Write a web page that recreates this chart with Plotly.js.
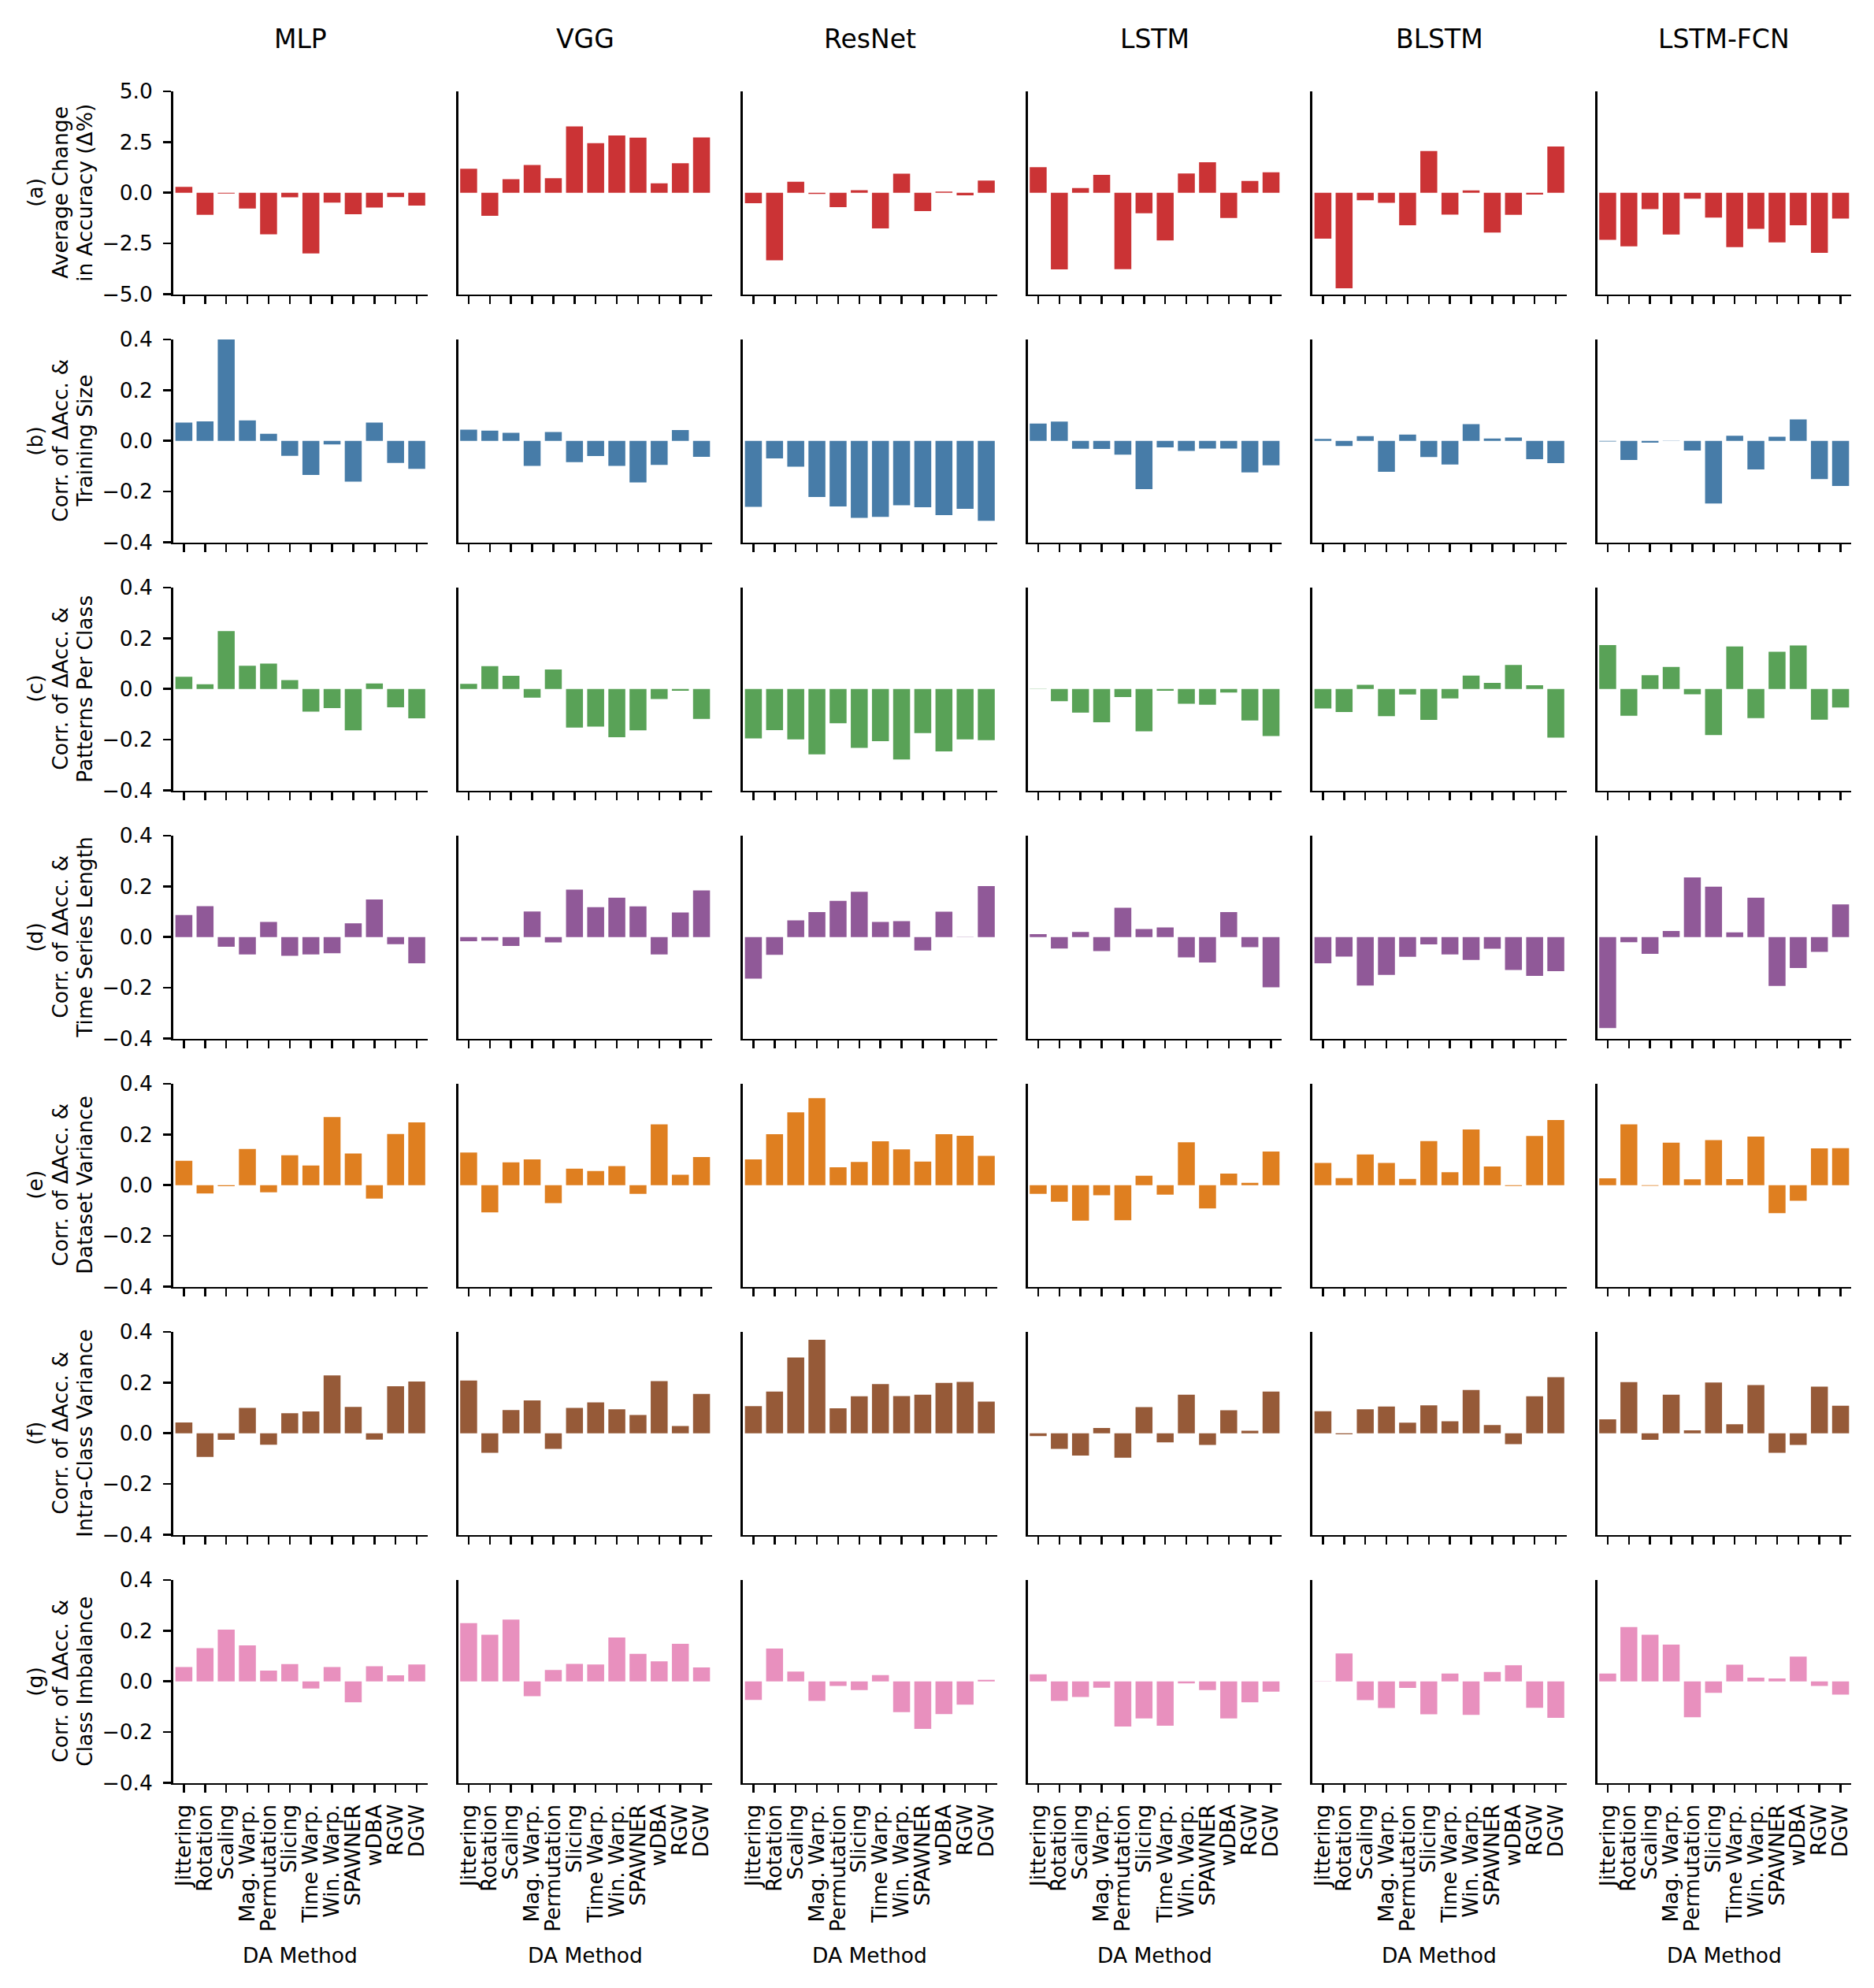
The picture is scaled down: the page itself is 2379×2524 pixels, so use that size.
<!DOCTYPE html>
<html>
<head>
<meta charset="utf-8">
<script src="https://cdn.plot.ly/plotly-3.0.1.min.js"></script>
<style>html,body{margin:0;padding:0;background:#fff;}#chart{width:2379px;height:2524px;}</style>
</head>
<body>
<div id="chart"></div>
<script>
const methods = ['Jittering','Rotation','Scaling','Mag. Warp.','Permutation','Slicing','Time Warp.','Win. Warp.','SPAWNER','wDBA','RGW','DGW'];
const models = ['MLP','VGG','ResNet','LSTM','BLSTM','LSTM-FCN'];

// each row: one list per model (MLP, VGG, ResNet, LSTM, BLSTM, LSTM-FCN)
const avgChangeAcc = [
  [0.29, -1.09, -0.04, -0.78, -2.05, -0.22, -2.99, -0.49, -1.06, -0.73, -0.21, -0.63],
  [1.18, -1.14, 0.67, 1.37, 0.72, 3.27, 2.45, 2.83, 2.72, 0.47, 1.46, 2.73],
  [-0.51, -3.33, 0.54, -0.06, -0.71, 0.13, -1.76, 0.94, -0.90, 0.06, -0.13, 0.60],
  [1.26, -3.78, 0.23, 0.88, -3.77, -1.01, -2.35, 0.95, 1.50, -1.24, 0.58, 1.01],
  [-2.26, -4.71, -0.37, -0.50, -1.60, 2.06, -1.08, 0.12, -1.96, -1.09, -0.09, 2.28],
  [-2.32, -2.64, -0.81, -2.06, -0.29, -1.22, -2.68, -1.78, -2.45, -1.60, -2.96, -1.27]
];
const corrTrainingSize = [
  [0.072, 0.077, 0.400, 0.081, 0.028, -0.059, -0.134, -0.014, -0.161, 0.072, -0.087, -0.110],
  [0.044, 0.040, 0.032, -0.099, 0.035, -0.084, -0.060, -0.099, -0.164, -0.095, 0.043, -0.063],
  [-0.260, -0.069, -0.102, -0.221, -0.259, -0.304, -0.300, -0.254, -0.262, -0.293, -0.268, -0.315],
  [0.068, 0.076, -0.031, -0.032, -0.054, -0.190, -0.026, -0.040, -0.030, -0.030, -0.124, -0.096],
  [0.008, -0.020, 0.019, -0.122, 0.025, -0.064, -0.093, 0.066, 0.009, 0.013, -0.072, -0.088],
  [-0.002, -0.075, -0.007, -0.001, -0.038, -0.247, 0.020, -0.113, 0.016, 0.085, -0.151, -0.178]
];
const corrPatternsPerClass = [
  [0.048, 0.019, 0.228, 0.092, 0.100, 0.035, -0.089, -0.075, -0.163, 0.022, -0.072, -0.116],
  [0.020, 0.090, 0.052, -0.034, 0.077, -0.152, -0.148, -0.190, -0.163, -0.040, -0.007, -0.118],
  [-0.195, -0.162, -0.199, -0.258, -0.135, -0.232, -0.206, -0.278, -0.174, -0.246, -0.199, -0.202],
  [-0.001, -0.048, -0.093, -0.131, -0.032, -0.167, -0.007, -0.058, -0.062, -0.014, -0.124, -0.186],
  [-0.077, -0.091, 0.016, -0.107, -0.022, -0.122, -0.037, 0.053, 0.024, 0.095, 0.015, -0.192],
  [0.173, -0.106, 0.054, 0.087, -0.021, -0.182, 0.168, -0.115, 0.147, 0.172, -0.121, -0.073]
];
const corrSeriesLength = [
  [0.087, 0.122, -0.038, -0.068, 0.060, -0.074, -0.068, -0.064, 0.054, 0.148, -0.028, -0.103],
  [-0.016, -0.014, -0.035, 0.101, -0.021, 0.187, 0.118, 0.155, 0.121, -0.068, 0.097, 0.184],
  [-0.164, -0.070, 0.066, 0.099, 0.143, 0.179, 0.060, 0.063, -0.053, 0.100, 0.001, 0.201],
  [0.012, -0.045, 0.020, -0.055, 0.116, 0.032, 0.038, -0.080, -0.100, 0.099, -0.040, -0.198],
  [-0.103, -0.077, -0.191, -0.149, -0.078, -0.029, -0.068, -0.090, -0.046, -0.130, -0.153, -0.134],
  [-0.359, -0.020, -0.066, 0.024, 0.235, 0.199, 0.019, 0.155, -0.193, -0.122, -0.058, 0.129]
];
const corrDatasetVariance = [
  [0.096, -0.033, -0.004, 0.143, -0.028, 0.118, 0.078, 0.269, 0.125, -0.053, 0.202, 0.248],
  [0.129, -0.107, 0.090, 0.102, -0.071, 0.065, 0.056, 0.075, -0.034, 0.240, 0.041, 0.111],
  [0.102, 0.201, 0.287, 0.343, 0.071, 0.092, 0.173, 0.141, 0.093, 0.201, 0.195, 0.116],
  [-0.034, -0.065, -0.140, -0.040, -0.138, 0.037, -0.037, 0.169, -0.092, 0.046, 0.009, 0.133],
  [0.088, 0.028, 0.121, 0.088, 0.025, 0.174, 0.051, 0.220, 0.074, -0.003, 0.194, 0.257],
  [0.027, 0.240, -0.002, 0.168, 0.023, 0.178, 0.024, 0.192, -0.110, -0.061, 0.145, 0.146]
];
const corrIntraClassVariance = [
  [0.043, -0.093, -0.026, 0.100, -0.045, 0.079, 0.086, 0.228, 0.104, -0.025, 0.186, 0.204],
  [0.208, -0.077, 0.092, 0.130, -0.061, 0.100, 0.122, 0.095, 0.072, 0.206, 0.029, 0.155],
  [0.107, 0.165, 0.299, 0.369, 0.099, 0.146, 0.194, 0.147, 0.152, 0.199, 0.203, 0.125],
  [-0.011, -0.061, -0.088, 0.021, -0.096, 0.103, -0.036, 0.152, -0.046, 0.091, 0.010, 0.165],
  [0.087, -0.004, 0.095, 0.106, 0.042, 0.110, 0.047, 0.171, 0.033, -0.043, 0.146, 0.221],
  [0.055, 0.202, -0.026, 0.152, 0.012, 0.200, 0.036, 0.190, -0.077, -0.046, 0.184, 0.109]
];
const corrClassImbalance = [
  [0.057, 0.131, 0.204, 0.142, 0.043, 0.068, -0.028, 0.057, -0.082, 0.060, 0.024, 0.067],
  [0.230, 0.184, 0.244, -0.058, 0.045, 0.069, 0.067, 0.173, 0.109, 0.079, 0.148, 0.055],
  [-0.073, 0.130, 0.039, -0.077, -0.018, -0.034, 0.025, -0.121, -0.187, -0.129, -0.092, 0.006],
  [0.028, -0.077, -0.061, -0.025, -0.178, -0.146, -0.175, -0.008, -0.034, -0.146, -0.082, -0.040],
  [-0.001, 0.110, -0.074, -0.105, -0.026, -0.130, 0.031, -0.132, 0.037, 0.064, -0.104, -0.144],
  [0.031, 0.214, 0.184, 0.145, -0.141, -0.045, 0.066, 0.015, 0.012, 0.098, -0.018, -0.052]
];

const rowLabels = [
  ['(a)', 'Average Change', 'in Accuracy (Δ%)'],
  ['(b)', 'Corr. of ΔAcc. &', 'Training Size'],
  ['(c)', 'Corr. of ΔAcc. &', 'Patterns Per Class'],
  ['(d)', 'Corr. of ΔAcc. &', 'Time Series Length'],
  ['(e)', 'Corr. of ΔAcc. &', 'Dataset Variance'],
  ['(f)', 'Corr. of ΔAcc. &', 'Intra-Class Variance'],
  ['(g)', 'Corr. of ΔAcc. &', 'Class Imbalance']
];
const rowColors = ['#CB3335', '#477CA8', '#59A257', '#905998', '#DF7F20', '#965A38', '#E890BE'];
const ticksA = [-5, -2.5, 0, 2.5, 5];
const ticksCorr = [-0.4, -0.2, 0, 0.2, 0.4];
const xLabel = 'DA Method';

const rowsData = [avgChangeAcc, corrTrainingSize, corrPatternsPerClass, corrSeriesLength,
                  corrDatasetVariance, corrIntraClassVariance, corrClassImbalance];

const W = 2379, H = 2524;
const FONT = 'DejaVu Sans, Liberation Sans, sans-serif';
const left0 = 220, colStep = 361.5, panelW = 322.5;
const top0 = 116, rowStep = 315, panelH = 257.5;

const traces = [];
const layout = {
  width: W, height: H,
  margin: {l: 0, r: 0, t: 0, b: 0},
  paper_bgcolor: '#ffffff', plot_bgcolor: '#ffffff',
  showlegend: false,
  bargap: 0.2,
  font: {family: FONT, size: 26.5, color: '#000'},
  annotations: []
};

for (let r = 0; r < 7; r++) {
  const top = top0 + r * rowStep;
  const bot = top + panelH;
  const isA = r === 0;
  for (let c = 0; c < 6; c++) {
    const i = r * 6 + c + 1;
    const xa = 'xaxis' + (i === 1 ? '' : i);
    const ya = 'yaxis' + (i === 1 ? '' : i);
    const xl = left0 + c * colStep;
    traces.push({
      type: 'bar',
      x: methods,
      y: rowsData[r][c],
      xaxis: 'x' + (i === 1 ? '' : i),
      yaxis: 'y' + (i === 1 ? '' : i),
      marker: {color: rowColors[r], line: {width: 0}},
      hoverinfo: 'x+y'
    });
    layout[xa] = {
      domain: [xl / W, (xl + panelW) / W],
      anchor: 'y' + (i === 1 ? '' : i),
      type: 'category',
      categoryorder: 'array',
      categoryarray: methods,
      range: [-0.5, 11.5],
      tickmode: 'array',
      tickvals: methods,
      ticktext: methods,
      showline: true, linecolor: '#000', linewidth: 2.8,
      ticks: 'outside', ticklen: 10, tickwidth: 2.6, tickcolor: '#000',
      showticklabels: r === 6,
      tickangle: -90,
      tickfont: {family: FONT, size: 26.5, color: '#000'},
      ticklabelstandoff: 4,
      showgrid: false, zeroline: false, fixedrange: true
    };
    layout[ya] = {
      domain: [1 - bot / H, 1 - top / H],
      anchor: 'x' + (i === 1 ? '' : i),
      range: isA ? [-5, 5] : [-0.4, 0.4],
      tickmode: 'array',
      tickvals: isA ? ticksA : ticksCorr,
      tickformat: '.1f',
      showline: true, linecolor: '#000', linewidth: 2.8,
      ticks: c === 0 ? 'outside' : '', ticklen: 10, tickwidth: 2.6, tickcolor: '#000',
      showticklabels: c === 0,
      tickfont: {family: FONT, size: 26.5, color: '#000'},
      ticklabelstandoff: 8,
      showgrid: false, zeroline: false, fixedrange: true
    };
  }
  // row label (three rotated lines)
  const yc = 1 - (top + panelH / 2) / H;
  const lineX = [45, 77, 108];
  rowLabels[r].forEach((t, k) => {
    layout.annotations.push({
      text: t, xref: 'paper', yref: 'paper',
      x: lineX[k] / W, y: yc, xanchor: 'center', yanchor: 'middle',
      textangle: -90, showarrow: false,
      font: {family: FONT, size: 26.5, color: '#000'}
    });
  });
}

for (let c = 0; c < 6; c++) {
  const xc = (left0 + c * colStep + panelW / 2) / W;
  layout.annotations.push({
    text: models[c], xref: 'paper', yref: 'paper',
    x: xc, y: 1 - 50 / H, xanchor: 'center', yanchor: 'middle',
    showarrow: false, font: {family: FONT, size: 33, color: '#000'}
  });
  layout.annotations.push({
    text: xLabel, xref: 'paper', yref: 'paper',
    x: xc, y: 1 - 2482 / H, xanchor: 'center', yanchor: 'middle',
    showarrow: false, font: {family: FONT, size: 26.5, color: '#000'}
  });
}

Plotly.newPlot('chart', traces, layout, {staticPlot: true, displayModeBar: false});
</script>
</body>
</html>
